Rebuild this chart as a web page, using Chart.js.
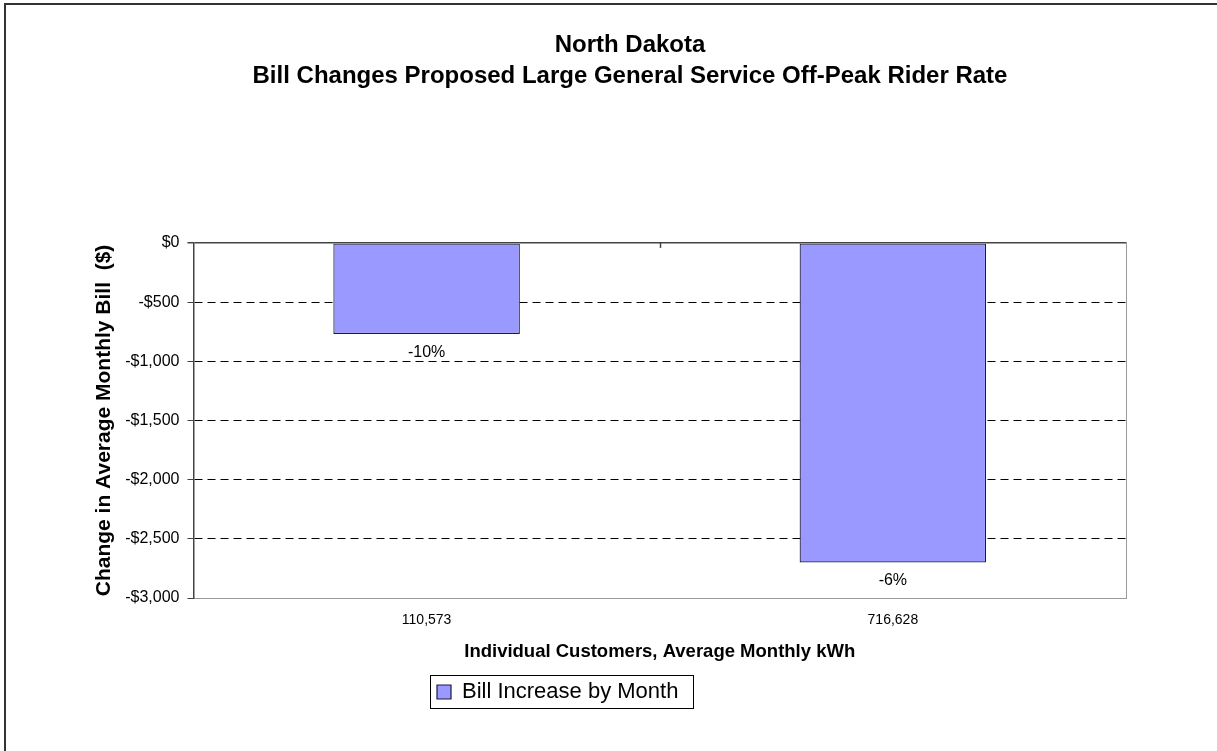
<!DOCTYPE html>
<html>
<head>
<meta charset="utf-8">
<script src="https://cdn.jsdelivr.net/npm/chart.js@4"></script>
<style>
  html, body { margin: 0; padding: 0; background: #fff; }
  #wrap { position: relative; width: 1217px; height: 751px; overflow: hidden; }
  #frame { position: absolute; left: 4px; top: 3px; width: 1230px; height: 800px; border-top: 2px solid #333; border-left: 2px solid #333; }
</style>
</head>
<body>
<div id="wrap">
  <div id="frame"></div>
  <canvas id="grafico" width="1217" height="751"></canvas>
</div>
<script>
const categorias = ['110,573', '716,628'];
const valores = [-770, -2700];
const percentuais = ['-10%', '-6%'];
const tituloLinhas = ['North Dakota', 'Bill Changes Proposed Large General Service Off-Peak Rider Rate'];
const fonte = "'Liberation Sans', Arial, sans-serif";

const ctx = document.getElementById('grafico');

// posicao da legenda (inicio do quadrado) e centro do titulo
const legendaX = 437;
const tituloCentro = 630;

const extras = {
    id: 'extras',
    afterLayout(chart) {
        const tb = chart.titleBlock;
        if (tb) {
            const d = tituloCentro - (tb.left + tb.right) / 2;
            tb.left += d;
            tb.right += d;
        }
        const lg = chart.legend;
        if (!lg || !lg.lineWidths) return;
        const pad = lg.options.labels.padding;
        const inicio = (lg.left + pad + lg.right - lg.lineWidths[0]) / 2;
        const dx = legendaX - inicio;
        lg.left += dx;
        lg.right += dx;
    },
    afterDatasetsDraw(chart) {
        const c = chart.ctx;
        const meta = chart.getDatasetMeta(0);
        c.save();
        c.fillStyle = '#000';
        c.font = '16px ' + fonte;
        c.textAlign = 'center';
        c.textBaseline = 'middle';
        meta.data.forEach((bar, i) => {
            c.fillText(percentuais[i], bar.x, bar.y + 18.5);
        });
        const x = chart.scales.x;
        const y = chart.scales.y;
        const meio = Math.round((x.getPixelForValue(0) + x.getPixelForValue(1)) / 2) + 0.5;
        const y0 = y.getPixelForValue(0);
        c.strokeStyle = '#444';
        c.lineWidth = 1.5;
        c.beginPath();
        c.moveTo(meio, y0);
        c.lineTo(meio, y0 + 5);
        c.stroke();
        c.restore();
    },
    afterDraw(chart) {
        const lg = chart.legend;
        if (!lg || !lg.lineWidths) return;
        const pad = lg.options.labels.padding;
        const fs = lg.options.labels.font.size;
        const inicio = (lg.left + pad + lg.right - lg.lineWidths[0]) / 2;
        const largura = lg.lineWidths[0] - pad;
        const cy = lg.top + pad + fs / 2;
        const c = chart.ctx;
        c.save();
        c.strokeStyle = '#000';
        c.lineWidth = 1;
        c.strokeRect(Math.round(inicio - 7) + 0.5, Math.round(cy - 17) + 0.5, Math.round(largura + 22), 33);
        c.restore();
    }
};

new Chart(ctx, {
    type: 'bar',
    data: {
        labels: categorias,
        datasets: [{
            label: 'Bill Increase by Month',
            data: valores,
            backgroundColor: '#9999FF',
            borderColor: '#1a1a3a',
            borderWidth: 1.2,
            borderSkipped: false,
            categoryPercentage: 1,
            barPercentage: 0.4
        }]
    },
    options: {
        responsive: false,
        animation: false,
        layout: {
            padding: { left: 92, right: 91, top: 0, bottom: 38 }
        },
        plugins: {
            title: {
                display: true,
                text: tituloLinhas,
                color: '#000',
                font: { family: fonte, size: 24, weight: 'bold', lineHeight: 1.29 },
                padding: { top: 30, bottom: 151 }
            },
            legend: {
                position: 'bottom',
                labels: {
                    color: '#000',
                    font: { family: fonte, size: 22 },
                    boxWidth: 14,
                    boxHeight: 14,
                    padding: 8
                }
            },
            tooltip: { enabled: false }
        },
        scales: {
            x: {
                grid: { display: false },
                border: { color: '#999', width: 1 },
                ticks: { color: '#000', font: { family: fonte, size: 14 }, padding: 6 },
                title: {
                    display: true,
                    text: 'Individual Customers, Average Monthly kWh',
                    color: '#000',
                    font: { family: fonte, size: 18.5, weight: 'bold' },
                    padding: { top: 6, bottom: 10 }
                }
            },
            y: {
                min: -3000,
                max: 0,
                border: {
                    color: '#444',
                    width: 1.5,
                    dash: c => (c.tick && (c.tick.value === 0 || c.tick.value === -3000)) ? [] : [8, 5]
                },
                grid: {
                    color: c => c.tick.value === 0 ? '#444' : (c.tick.value === -3000 ? '#999' : '#000'),
                    lineWidth: c => c.tick.value === 0 ? 1.5 : 1,
                    tickColor: '#444',
                    tickLength: 6
                },
                ticks: {
                    stepSize: 500,
                    color: '#000',
                    font: { family: fonte, size: 16 },
                    padding: 8,
                    callback: v => v === 0 ? '$0' : '-$' + Math.abs(v).toLocaleString('en-US')
                },
                title: {
                    display: true,
                    text: 'Change in Average Monthly Bill  ($)',
                    color: '#000',
                    font: { family: fonte, size: 21, weight: 'bold' },
                    padding: { top: 0, bottom: 0 }
                }
            },
            y2: {
                position: 'right',
                min: -3000,
                max: 0,
                grid: { drawOnChartArea: false, drawTicks: false },
                border: { color: '#999', width: 1 },
                ticks: { display: false }
            }
        }
    },
    plugins: [extras]
});
</script>
</body>
</html>
